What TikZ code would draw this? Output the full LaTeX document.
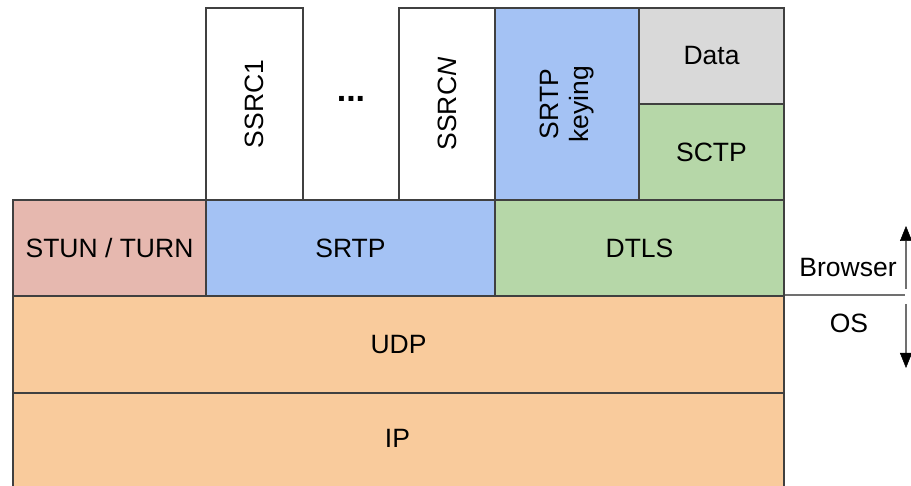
\documentclass[tikz,border=0pt]{standalone}
\usepackage{fontspec}
\setmainfont{Liberation Sans}
\usetikzlibrary{arrows.meta}
\definecolor{edge}{HTML}{404040}
\definecolor{stun}{HTML}{E6B8AF}
\definecolor{srtp}{HTML}{A4C2F4}
\definecolor{dtls}{HTML}{B6D7A8}
\definecolor{udp}{HTML}{F9CB9C}
\definecolor{datagray}{HTML}{D9D9D9}
\definecolor{divider}{HTML}{707070}
\begin{document}
\begin{tikzpicture}[x=1pt,y=-1pt,
  layer/.style={draw=edge, line width=2pt, anchor=north west, inner sep=0pt,
    font=\fontsize{26.5}{31}\selectfont, align=center},
  sidelabel/.style={font=\fontsize{26.5}{31}\selectfont, inner sep=0pt},
  updown/.style={draw=divider, line width=2pt,
    -{Triangle[length=15pt,width=12pt,color=black,line width=0.5pt]}}]
\useasboundingbox (0,0) rectangle (911,486);
\clip (0,0) rectangle (911,486);
% upper row: streams, keying, data channel
\node[layer, minimum width=97, minimum height=192] (ssrc1) at (205,7) {};
\node[rotate=90, sidelabel] at (ssrc1.center) {SSRC1};
\node[inner sep=0pt, font=\fontsize{34}{36}\selectfont\bfseries] (dots) at (351,99) {...};
\node[layer, minimum width=96, minimum height=192] (ssrcn) at (398,7) {};
\node[rotate=90, sidelabel] at (ssrcn.center) {SSRC\textit{N}};
\node[layer, fill=srtp, minimum width=144, minimum height=192] (keying) at (494,7) {};
\node[rotate=90, sidelabel, align=center] at (keying.center) {SRTP\\[-1pt]keying};
\node[layer, fill=datagray, minimum width=145, minimum height=96] (data) at (638,7) {Data};
\node[layer, fill=dtls, minimum width=145, minimum height=96] (sctp) at (638,103) {SCTP};
% middle row: transport security
\node[layer, fill=stun, minimum width=193, minimum height=96] (stun) at (12,199) {STUN / TURN};
\node[layer, fill=srtp, minimum width=289, minimum height=96] (srtpl) at (205,199) {SRTP};
\node[layer, fill=dtls, minimum width=289, minimum height=96] (dtlsl) at (494,199) {DTLS};
% lower rows: OS network stack
\node[layer, fill=udp, minimum width=771, minimum height=97] (udpl) at (12,295) {UDP};
\node[layer, fill=udp, minimum width=771, minimum height=110] (ipl) at (12,392) {};
\node[sidelabel] at (397.5,438) {IP};
% browser / OS boundary
\coordinate (cut) at (905,295);
\draw[draw=divider, line width=2pt] (udpl.north east) -- (cut);
\node[sidelabel] (browser) at (848,268) {Browser};
\node[sidelabel] (os) at (849,323) {OS};
\coordinate (upfrom) at (906,289);
\coordinate (upto) at (906,226);
\coordinate (downfrom) at (906,304);
\coordinate (downto) at (906,368);
\draw[updown] (upfrom) -- (upto);
\draw[updown] (downfrom) -- (downto);
\end{tikzpicture}
\end{document}
